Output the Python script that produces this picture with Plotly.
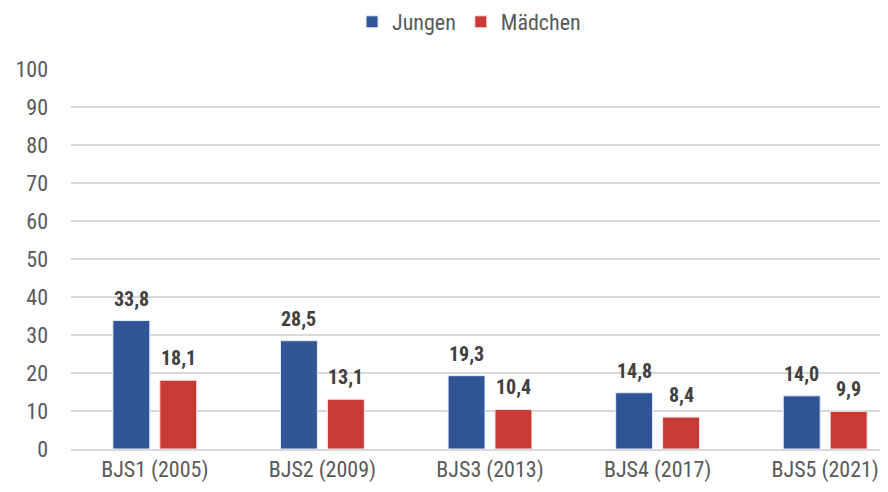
import plotly.graph_objects as go

categories = ["BJS1 (2005)", "BJS2 (2009)", "BJS3 (2013)", "BJS4 (2017)", "BJS5 (2021)"]
jungen = [33.8, 28.5, 19.3, 14.8, 14.0]
maedchen = [18.1, 13.1, 10.4, 8.4, 9.9]
y_ticks = [0, 10, 20, 30, 40, 50, 60, 70, 80, 90, 100]

FONT = "Roboto Condensed, Liberation Sans Narrow, Arial Narrow, Liberation Sans, Arial, sans-serif"
GRAY = "#595959"
OFF = 8  # default page body margin

def fmt(v):
    return f"{v:.1f}".replace(".", ",")

fig = go.Figure()
fig.add_trace(go.Bar(
    name="Jungen", x=categories, y=jungen,
    marker=dict(color="#2F5597", line=dict(color="#E8ECF4", width=1)),
))
fig.add_trace(go.Bar(
    name="Mädchen", x=categories, y=maedchen,
    marker=dict(color="#C73A35", line=dict(color="#F4E6E6", width=1)),
))

for series, shift in ((jungen, -23.5), (maedchen, 23.5)):
    for cat, v in zip(categories, series):
        fig.add_annotation(x=cat, y=v, text=fmt(v), showarrow=False,
                           xanchor="center", yanchor="bottom", xshift=shift, yshift=8,
                           font=dict(family=FONT, size=20, color="#404040", weight="bold"))

fig.update_layout(
    width=901, height=492,
    margin=dict(l=71 - OFF, r=0, t=69 - OFF, b=43 + OFF, autoexpand=False),
    paper_bgcolor="white", plot_bgcolor="white",
    font=dict(family=FONT, size=22, color=GRAY),
    barmode="group", bargap=0.44, bargroupgap=0.213,
    legend=dict(orientation="h", x=0.475, xanchor="center", y=1 - 14 / 492, yanchor="middle",
                yref="container", font=dict(size=22, color=GRAY),
                itemwidth=30, traceorder="normal"),
    showlegend=True,
)
fig.update_yaxes(range=[0, 100], tickvals=y_ticks, showgrid=True, gridcolor="#D9D9D9",
                 gridwidth=1.5, zeroline=False, showline=False, ticks="",
                 tickfont=dict(size=22, color=GRAY), ticklabelstandoff=22, automargin=False)
fig.update_xaxes(showline=True, linecolor="#D9D9D9", linewidth=2, ticks="",
                 tickfont=dict(size=22, color=GRAY), automargin=False)

fig.write_html("out.html")
